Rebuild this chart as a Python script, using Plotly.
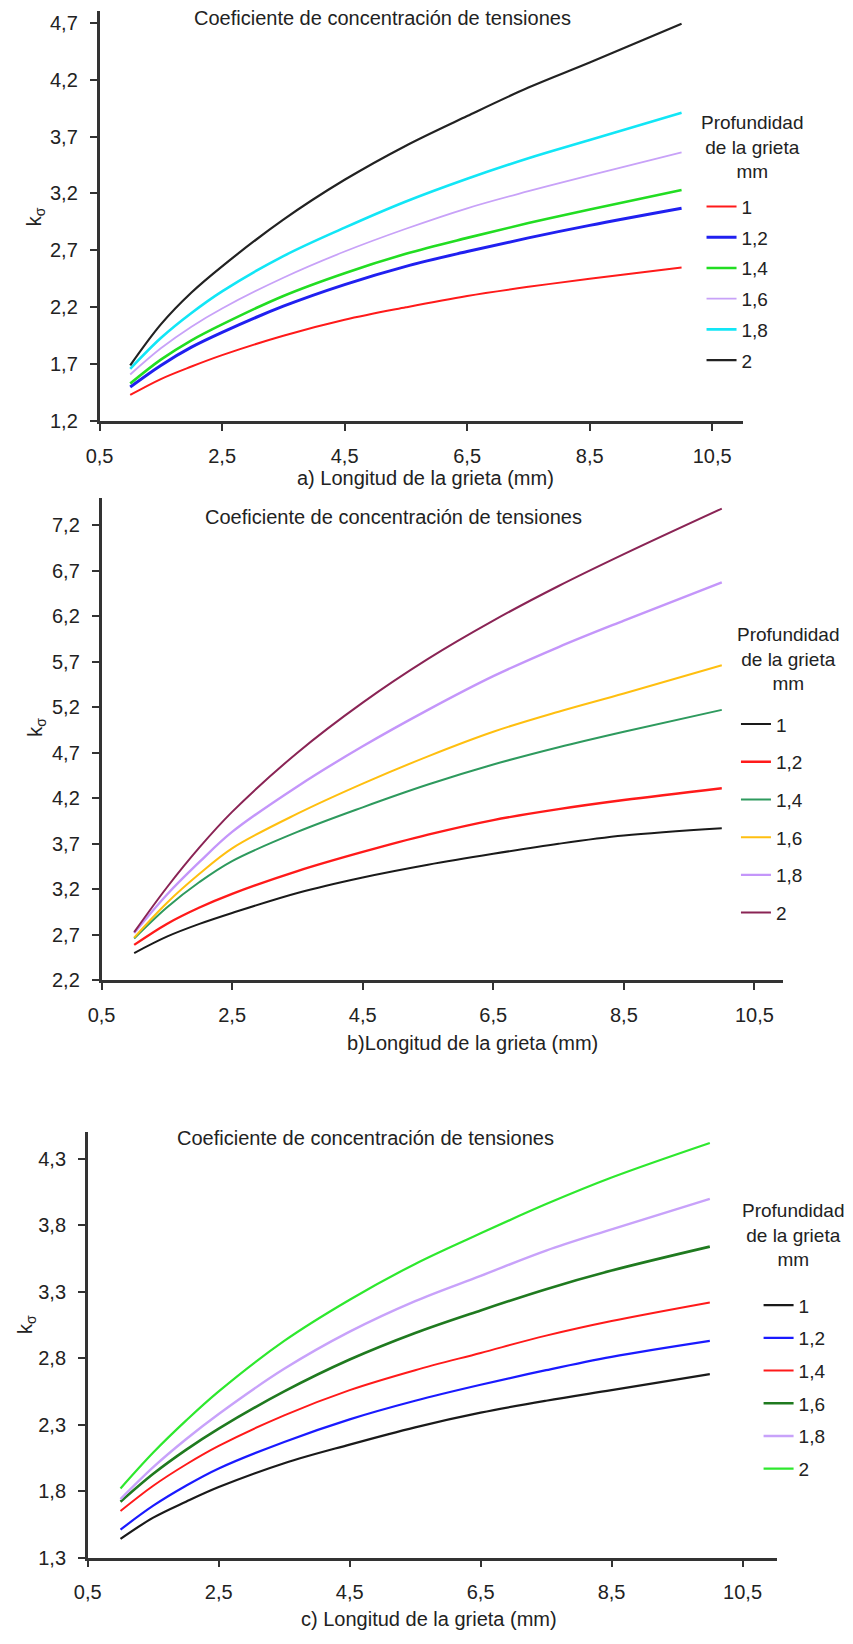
import plotly.graph_objects as go

FONT = "Liberation Sans, Arial, sans-serif"
W, H = 853, 1644

# ---------------- data ----------------
depth_labels = ["1", "1,2", "1,4", "1,6", "1,8", "2"]
crack_len = [1, 1.5, 2, 2.5, 3.5, 4.5, 5.5, 6.5, 7.5, 8.5, 10]

# panel a
a_d1 = [1.43, 1.57, 1.68, 1.78, 1.95, 2.09, 2.20, 2.30, 2.38, 2.45, 2.55]
a_d12 = [1.50, 1.69, 1.85, 1.98, 2.21, 2.40, 2.56, 2.69, 2.81, 2.92, 3.07]
a_d14 = [1.53, 1.74, 1.91, 2.05, 2.30, 2.50, 2.67, 2.81, 2.94, 3.06, 3.23]
a_d16 = [1.61, 1.84, 2.03, 2.19, 2.46, 2.69, 2.89, 3.07, 3.22, 3.36, 3.56]
a_d18 = [1.66, 1.93, 2.15, 2.34, 2.65, 2.90, 3.13, 3.33, 3.51, 3.67, 3.91]
a_d2 = [1.69, 2.05, 2.33, 2.56, 2.97, 3.32, 3.62, 3.88, 4.13, 4.35, 4.69]

# panel b
b_d1 = [2.50, 2.68, 2.82, 2.94, 3.16, 3.33, 3.47, 3.59, 3.70, 3.79, 3.87]
b_d12 = [2.59, 2.82, 3.00, 3.15, 3.40, 3.61, 3.80, 3.96, 4.08, 4.18, 4.31]
b_d14 = [2.66, 3.00, 3.28, 3.51, 3.83, 4.10, 4.35, 4.57, 4.76, 4.93, 5.17]
b_d16 = [2.67, 3.05, 3.37, 3.65, 4.03, 4.36, 4.66, 4.93, 5.15, 5.35, 5.66]
b_d18 = [2.72, 3.14, 3.50, 3.83, 4.33, 4.77, 5.17, 5.54, 5.86, 6.15, 6.57]
b_d2 = [2.73, 3.22, 3.66, 4.05, 4.70, 5.25, 5.73, 6.15, 6.53, 6.88, 7.38]

# panel c
c_d1 = [1.44, 1.60, 1.72, 1.83, 2.01, 2.15, 2.28, 2.39, 2.48, 2.56, 2.68]
c_d12 = [1.51, 1.69, 1.84, 1.97, 2.17, 2.34, 2.48, 2.60, 2.71, 2.81, 2.93]
c_d14 = [1.65, 1.84, 2.00, 2.14, 2.37, 2.56, 2.71, 2.84, 2.97, 3.08, 3.22]
c_d16 = [1.72, 1.93, 2.11, 2.27, 2.55, 2.79, 2.99, 3.16, 3.32, 3.46, 3.64]
c_d18 = [1.74, 1.98, 2.19, 2.38, 2.72, 3.00, 3.23, 3.42, 3.61, 3.77, 4.00]
c_d2 = [1.82, 2.09, 2.33, 2.55, 2.93, 3.24, 3.51, 3.74, 3.96, 4.16, 4.42]

panel_a = [a_d1, a_d12, a_d14, a_d16, a_d18, a_d2]
panel_b = [b_d1, b_d12, b_d14, b_d16, b_d18, b_d2]
panel_c = [c_d1, c_d12, c_d14, c_d16, c_d18, c_d2]

colors_a = ["#ff1a1a", "#2020f0", "#22dd22", "#c8a2f8", "#12e6f6", "#222222"]
widths_a = [2, 3, 2.6, 1.8, 2.6, 2.2]
colors_b = ["#1a1a1a", "#ff1a1a", "#2e9a5e", "#ffbf10", "#c496fa", "#8a2455"]
widths_b = [2, 2.4, 2, 2, 2.4, 2]
colors_c = ["#1a1a1a", "#1a1aff", "#ff1a1a", "#1f7a1f", "#c8a2fa", "#2ee82e"]
widths_c = [2.2, 2.2, 2, 2.6, 2.4, 2.2]

fig = go.Figure()

panels = [
    (panel_a, colors_a, widths_a, "x", "y", "legend"),
    (panel_b, colors_b, widths_b, "x2", "y2", "legend2"),
    (panel_c, colors_c, widths_c, "x3", "y3", "legend3"),
]
for p_i, (series, cols, wds, xa, ya, lg) in enumerate(panels):
    for s_i, vals in enumerate(series):
        fig.add_trace(go.Scatter(
            x=crack_len, y=vals, mode="lines",
            line=dict(color=cols[s_i], width=wds[s_i], shape="spline", smoothing=1.0),
            name=depth_labels[s_i], xaxis=xa, yaxis=ya, legend=lg,
            legendgroup=f"p{p_i}s{s_i}", showlegend=True,
        ))


def px_x(v):
    return v / W


def px_y(v):
    return 1 - v / H


axis_common = dict(
    showline=True, linecolor="#333333", linewidth=2.5, showgrid=False,
    zeroline=False, ticks="outside", ticklen=7, tickwidth=2, tickcolor="#333333",
    tickfont=dict(family=FONT, size=20, color="#222222"), tickformat=".1f",
    tickmode="linear", dtick=2, tick0=0.5, fixedrange=True,
)

fig.update_layout(
    width=W, height=H, margin=dict(l=0, r=0, t=0, b=0),
    paper_bgcolor="white", plot_bgcolor="white", separators=", ",
    font=dict(family=FONT, size=20, color="#222222"),
    xaxis=dict(axis_common, domain=[px_x(87), px_x(741)], range=[0.5, 11], anchor="y",
               ticklabelstandoff=8),
    yaxis=dict(axis_common, domain=[px_y(424), px_y(11.4)], range=[1.2, 4.8], anchor="x",
               tick0=1.2, dtick=0.5, ticklabelstandoff=8),
    xaxis2=dict(axis_common, domain=[px_x(89), px_x(782)], range=[0.5, 10.94], anchor="y2",
                ticklabelstandoff=8),
    yaxis2=dict(axis_common, domain=[px_y(987), px_y(501)], range=[2.2, 7.5], anchor="x2",
                tick0=2.2, dtick=0.5, ticklabelstandoff=8),
    xaxis3=dict(axis_common, domain=[px_x(75), px_x(776)], range=[0.5, 11.03], anchor="y3",
                ticklabelstandoff=8),
    yaxis3=dict(axis_common, domain=[px_y(1568), px_y(1140)], range=[1.3, 4.5], anchor="x3",
                tick0=1.3, dtick=0.5, ticklabelstandoff=8),
)

leg_common = dict(
    xanchor="left", yanchor="top", bgcolor="rgba(0,0,0,0)",
    font=dict(family=FONT, size=19, color="#222222"),
    traceorder="grouped", itemwidth=30,
)
fig.update_layout(
    legend=dict(leg_common, x=px_x(699), y=px_y(189), tracegroupgap=3),
    legend2=dict(leg_common, x=px_x(734), y=px_y(710), tracegroupgap=10),
    legend3=dict(leg_common, x=px_x(757), y=px_y(1295), tracegroupgap=5),
)

title_txt = "Coeficiente de concentración de tensiones"
legend_title = "Profundidad<br>de la grieta<br>mm"
ann = []
for (cx, cy) in [(375, 18), (386, 520), (357, 1146)]:
    ann.append(dict(text=title_txt, x=px_x(cx), y=px_y(cy), xref="paper", yref="paper",
                    xanchor="center", yanchor="middle", showarrow=False,
                    font=dict(family=FONT, size=20, color="#222222")))
for (txt, cx, cy) in [("a) Longitud de la grieta (mm)", 418, 481),
                      ("b)Longitud de la grieta (mm)", 466, 1050),
                      ("c) Longitud de la grieta (mm)", 422, 1630)]:
    ann.append(dict(text=txt, x=px_x(cx), y=px_y(cy), xref="paper", yref="paper",
                    xanchor="center", yanchor="middle", showarrow=False,
                    font=dict(family=FONT, size=20, color="#222222")))
for (cx, cy) in [(750, 148), (787, 663), (792, 1243)]:
    ann.append(dict(text=legend_title, x=px_x(cx), y=px_y(cy), xref="paper", yref="paper",
                    xanchor="center", yanchor="middle", align="center", showarrow=False,
                    font=dict(family=FONT, size=19, color="#222222")))
for (cx, cy) in [(22, 218), (22, 732), (12, 1333)]:
    ann.append(dict(text="k<sub>σ</sub>", x=px_x(cx), y=px_y(cy), xref="paper", yref="paper",
                    xanchor="center", yanchor="middle", showarrow=False, textangle=-90,
                    font=dict(family=FONT, size=20, color="#222222")))
fig.update_layout(annotations=ann)

fig.write_html("out.html")
